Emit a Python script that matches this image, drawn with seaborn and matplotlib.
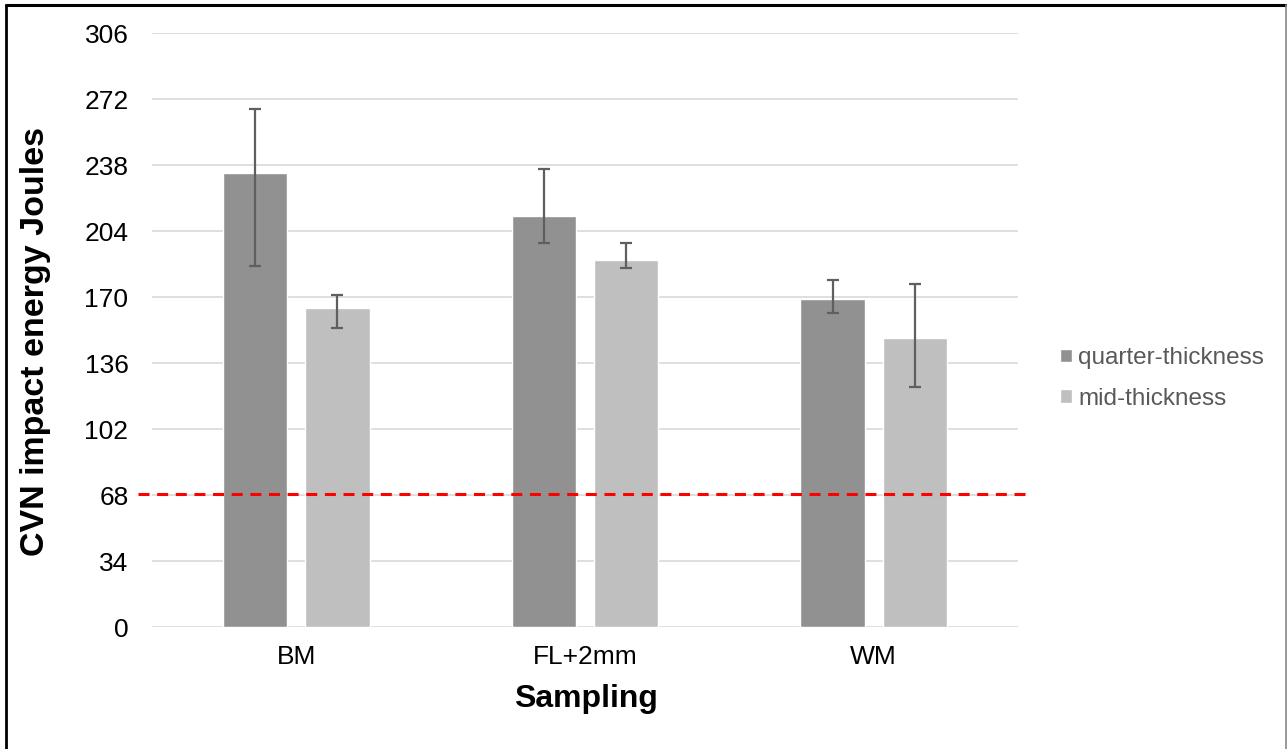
import matplotlib
matplotlib.use("Agg")
import matplotlib.pyplot as plt
from matplotlib.lines import Line2D
import seaborn as sns
import pandas as pd
import numpy as np

# ---- data ----
categories = ["BM", "FL+2mm", "WM"]
series_names = ["quarter-thickness", "mid-thickness"]
quarter_vals = [233.9, 211.9, 169.0]
quarter_high = [267.0, 236.0, 178.9]
quarter_low = [186.1, 198.0, 162.1]
mid_vals = [164.5, 189.2, 148.9]
mid_high = [171.3, 198.0, 176.9]
mid_low = [154.3, 184.9, 124.0]
yticks = [0, 34, 68, 102, 136, 170, 204, 238, 272, 306]
threshold = 68.5

df = pd.DataFrame({
    "Sampling": categories * 2,
    "Position": [series_names[0]] * 3 + [series_names[1]] * 3,
    "Energy": quarter_vals + mid_vals,
})
highs = [quarter_high, mid_high]
lows = [quarter_low, mid_low]
vals = [quarter_vals, mid_vals]

sns.set_theme(style="white")
plt.rcParams["font.family"] = ["Liberation Sans", "DejaVu Sans"]

W, H = 1287, 749
fig = plt.figure(figsize=(W / 100, H / 100), dpi=100)
L, R, T, B = 152, 1018, 33.3, 627.3
ax = fig.add_axes([L / W, 1 - B / H, (R - L) / W, (B - T) / H])

sns.barplot(data=df, x="Sampling", y="Energy", hue="Position",
            palette=["#919191", "#BFBFBF"], width=0.57, gap=0.22,
            errorbar=None, saturation=1, ax=ax)

bar_containers = list(ax.containers)
for i, cont in enumerate(bar_containers):
    xs = [b.get_x() + b.get_width() / 2 for b in cont]
    v = np.array(vals[i])
    yerr = [v - np.array(lows[i]), np.array(highs[i]) - v]
    ax.errorbar(xs, v, yerr=yerr, fmt="none", ecolor="#5F5F5F",
                elinewidth=1.6, capsize=4.5, capthick=1.6, zorder=5)

ax.set_ylim(0, 306)
ax.set_xlim(-0.5, 2.5)
ax.set_yticks(yticks)
ax.yaxis.grid(True, color="#D9D9D9", linewidth=1.2)
ax.set_axisbelow(True)
for s in ax.spines.values():
    s.set_visible(False)
ax.tick_params(axis="y", length=0, pad=17, labelsize=19, labelcolor="black")
ax.tick_params(axis="x", length=0, pad=13, labelsize=19, labelcolor="black")

ax.axhline(threshold, xmin=(138 - L) / (R - L), xmax=(1027 - L) / (R - L),
           color="#FF0000", linewidth=2.2, dashes=(3.6, 2.5), clip_on=False, zorder=6)

ax.set_xlabel("Sampling", fontsize=23, fontweight="bold", color="black")
ax.set_ylabel("CVN impact energy Joules", fontsize=24.5, fontweight="bold", color="black")
ax.xaxis.label.set_va("center")
ax.yaxis.label.set_va("center")
ax.xaxis.set_label_coords((586 - L) / (R - L), (B - 699) / (B - T))
ax.yaxis.set_label_coords((36 - L) / (R - L), (B - 341) / (B - T))

leg = ax.legend(loc="center left", bbox_to_anchor=((1060 - L) / (R - L), (B - 378.5) / (B - T)),
                frameon=False, fontsize=17.5, handlelength=0.5, handleheight=0.5,
                handletextpad=0.25, labelspacing=0.77, borderaxespad=0, borderpad=0,
                labelcolor="#595959", title=None)

# figure frame
fig.add_artist(Line2D([6 / W, 1286 / W], [1 - 5 / H, 1 - 5 / H], color="black", linewidth=2.2,
                      transform=fig.transFigure))
fig.add_artist(Line2D([6 / W, 6 / W], [0, 1 - 5 / H], color="black", linewidth=2.0,
                      transform=fig.transFigure))
fig.add_artist(Line2D([1285.5 / W, 1285.5 / W], [0, 1 - 5 / H], color="#888888", linewidth=1.2,
                      transform=fig.transFigure))

fig.savefig("out.png", dpi=100)
